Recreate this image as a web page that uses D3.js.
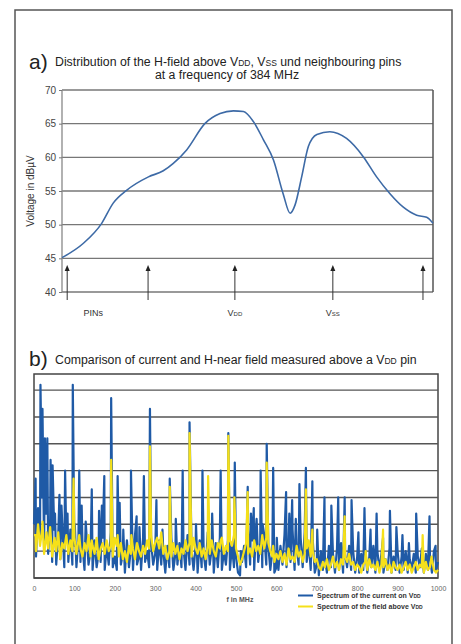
<!DOCTYPE html>
<html>
<head>
<meta charset="utf-8">
<script src="https://cdn.jsdelivr.net/npm/d3@7/dist/d3.min.js"></script>
<style>
  html, body { margin: 0; padding: 0; background: #fff; }
  svg { display: block; font-family: "Liberation Sans", Arial, sans-serif; }
</style>
</head>
<body>
<svg id="chart" width="461" height="644"></svg>
<script>
// Chart a) - field distribution across the pins (position in um, level in dBuV)
var scanPos = [0, 57, 107, 138, 174, 233, 273, 300, 336, 385, 426, 462, 489, 516, 543, 570, 596, 615, 628, 646, 664, 687, 722, 767, 812, 848, 884, 920, 956, 983, 1000];
var scanLevel = [45.1, 47.2, 50.2, 53.2, 55.1, 57.1, 58.0, 59.1, 61.1, 65.0, 66.5, 66.9, 66.8, 65.3, 62.6, 59.6, 54.6, 51.7, 52.9, 57.1, 61.6, 63.4, 63.8, 62.8, 60.1, 57.1, 54.6, 52.6, 51.4, 51.1, 50.2];
var pinPos = [14, 232, 466, 730, 973];
var pinLabels = [
  {pos: 84, main: 'PINs', sub: ''},
  {pos: 466, main: 'V', sub: 'DD'},
  {pos: 730, main: 'V', sub: 'SS'}
];
var yTicksA = [40, 45, 50, 55, 60, 65, 70];

// Chart b) - spectra, frequency in MHz, relative level (unlabelled axis)
var floorStep = 5;
var currentFloor = [
  20, 8, 26, 14, 30, 10, 24, 9, 22, 6, 18, 5, 16, 7, 20, 4, 14, 6, 18, 5, 12,
  4, 15, 6, 12, 3, 16, 5, 10, 3, 14, 4, 9, 6, 15, 3, 12, 5, 17, 4, 8,
  3, 13, 5, 9, 2, 14, 4, 11, 3, 16, 5, 8, 3, 15, 6, 10, 4, 13, 5, 9,
  3, 14, 5, 10, 2, 12, 4, 15, 3, 9, 5, 13, 4, 11, 3, 16, 5, 10, 3, 12,
  2, 14, 4, 9, 3, 17, 5, 11, 2, 13, 4, 15, 3, 10, 5, 14, 3, 12, 4, 8,
  2, 1, 6, 12, 4, 18, 5, 14, 3, 20, 6, 13, 4, 16, 5, 12, 3, 10, 2, 4,
  3, 12, 5, 16, 4, 14, 6, 18, 3, 12, 5, 15, 4, 17, 6, 13, 3, 14, 2, 5,
  1, 10, 3, 8, 2, 12, 4, 9, 2, 11, 3, 13, 2, 9, 4, 12, 3, 10, 2, 8,
  2, 9, 3, 11, 2, 8, 4, 12, 2, 10, 3, 9, 2, 7, 3, 11, 2, 8, 3, 10,
  2, 8, 3, 10, 2, 7, 3, 9, 2, 8, 4, 11, 2, 9, 3, 8, 2, 10, 3, 6];
var fieldFloor = [
  16, 10, 20, 12, 18, 9, 15, 11, 19, 8, 14, 10, 17, 7, 13, 11, 16, 9, 14, 10, 15,
  9, 14, 11, 8, 13, 10, 16, 8, 12, 9, 15, 7, 11, 13, 9, 14, 10, 12, 8, 15,
  12, 8, 13, 7, 10, 6, 12, 9, 11, 7, 13, 10, 8, 12, 9, 14, 11, 16, 10, 13,
  15, 11, 17, 9, 12, 7, 10, 8, 13, 9, 12, 7, 11, 9, 14, 10, 13, 8, 15, 11,
  9, 13, 8, 11, 7, 12, 9, 14, 10, 8, 13, 11, 15, 9, 12, 10, 14, 12, 16, 11,
  8, 5, 7, 10, 13, 9, 11, 8, 14, 10, 12, 9, 16, 11, 15, 13, 10, 8, 6, 9,
  7, 10, 6, 9, 5, 11, 7, 8, 6, 12, 8, 10, 6, 9, 11, 14, 8, 10, 6, 7,
  4, 3, 6, 4, 7, 3, 5, 8, 4, 6, 3, 7, 5, 8, 6, 9, 5, 6, 3, 5,
  4, 2, 5, 6, 3, 7, 4, 5, 3, 6, 2, 5, 4, 7, 3, 5, 2, 6, 4, 3,
  5, 2, 4, 6, 3, 5, 2, 4, 6, 3, 5, 4, 2, 6, 3, 4, 7, 3, 2, 3];
var currentPeaks = [[4, 37], [16, 72], [21, 63], [27, 52], [33, 52], [41, 44], [46, 42], [52, 24], [63, 31], [68, 27],
  [77, 40], [83, 24], [96, 72], [101, 20], [112, 40], [118, 27], [128, 21], [143, 33], [161, 25], [168, 27],
  [174, 38], [191, 67], [207, 38], [212, 28], [221, 18], [240, 40], [254, 23], [261, 19], [272, 38], [287, 63],
  [303, 29], [318, 18], [336, 37], [351, 22], [368, 40], [385, 58], [401, 20], [417, 40], [441, 24], [462, 40],
  [481, 54], [497, 43], [512, 10], [529, 34], [537, 24], [544, 26], [551, 22], [561, 40], [566, 20], [576, 50],
  [592, 41], [601, 15], [624, 32], [632, 24], [639, 29], [648, 22], [657, 35], [673, 41], [689, 36], [701, 18],
  [719, 30], [736, 27], [753, 30], [769, 30], [786, 29], [803, 17], [818, 26], [833, 18], [848, 24], [864, 15],
  [881, 25], [897, 19], [912, 16], [928, 13], [946, 24], [979, 23], [994, 12]];
var fieldPeaks = [[4, 16], [21, 21], [31, 17], [51, 15], [98, 37], [112, 16], [143, 14], [191, 44], [207, 16], [241, 16],
  [287, 49], [306, 14], [336, 34], [385, 54], [431, 38], [462, 14], [481, 53], [496, 30], [529, 32], [576, 43],
  [592, 12], [673, 33], [689, 18], [769, 23], [821, 10], [864, 18], [962, 16], [984, 8]];
var freqTicks = [0, 100, 200, 300, 400, 500, 600, 700, 800, 900, 1000];
var gridB = [10, 20, 30, 40, 50, 60, 70];
var legendItems = [
  {label: 'Spectrum of the current on V', sub: 'DD', color: '#1f5aa6'},
  {label: 'Spectrum of the field above V', sub: 'DD', color: '#f5e01a'}
];

var svg = d3.select('#chart');
svg.append('rect').attr('width', 461).attr('height', 644).attr('fill', '#fff');

// outer frame, its bottom edge runs off the page
svg.append('rect')
  .attr('x', 15).attr('y', 10).attr('width', 437).attr('height', 660)
  .attr('fill', 'none').attr('stroke', '#555').attr('stroke-width', 1.5);

// ---------- a) ----------
var xA = d3.scaleLinear().domain([0, 1000]).range([62, 433]);
var yA = d3.scaleLinear().domain([40, 70]).range([292, 90]);

svg.append('text').attr('x', 29).attr('y', 69)
  .attr('font-size', 21).attr('fill', '#222').text('a)');
var tA = svg.append('text').attr('x', 55).attr('y', 66)
  .attr('font-size', 12.3).attr('fill', '#222');
tA.append('tspan').text('Distribution of the H-field above V');
tA.append('tspan').attr('font-size', 8.5).text('DD');
tA.append('tspan').text(', V');
tA.append('tspan').attr('font-size', 8.5).text('SS');
tA.append('tspan').text(' und neighbouring pins');
svg.append('text').attr('x', 227).attr('y', 79).attr('text-anchor', 'middle')
  .attr('font-size', 12.3).attr('fill', '#222').text('at a frequency of 384 MHz');

var gA = svg.append('g');
gA.selectAll('line.grid').data(yTicksA).enter().append('line')
  .attr('class', 'grid')
  .attr('x1', xA(0)).attr('x2', xA(1000))
  .attr('y1', function(d) { return yA(d); }).attr('y2', function(d) { return yA(d); })
  .attr('stroke', '#777').attr('stroke-width', 1.3);
gA.append('line').attr('x1', xA(0)).attr('x2', xA(0)).attr('y1', yA(70)).attr('y2', yA(40))
  .attr('stroke', '#888').attr('stroke-width', 1.3);
gA.append('line').attr('x1', xA(1000)).attr('x2', xA(1000)).attr('y1', yA(70)).attr('y2', yA(40))
  .attr('stroke', '#555').attr('stroke-width', 1.5);

var axisA = d3.axisLeft(yA).tickValues(yTicksA).tickSize(3).tickPadding(3);
gA.append('g').attr('transform', 'translate(' + xA(0) + ',0)').call(axisA)
  .call(function(g) {
    g.select('.domain').remove();
    g.selectAll('line').attr('stroke', '#777');
    g.selectAll('text').attr('font-size', 10).attr('fill', '#444').attr('font-family', 'Liberation Sans, Arial, sans-serif');
  });

svg.append('text')
  .attr('transform', 'translate(34,' + yA(55) + ') rotate(-90)')
  .attr('text-anchor', 'middle').attr('font-size', 10).attr('fill', '#333')
  .text('Voltage in dB\u00b5V');

var line = d3.line()
  .x(function(d, i) { return xA(scanPos[i]); })
  .y(function(d) { return yA(d); })
  .curve(d3.curveMonotoneX);
gA.append('path').datum(scanLevel)
  .attr('d', line).attr('fill', 'none')
  .attr('stroke', '#3d6aa6').attr('stroke-width', 1.6);

// pin arrows
var arrows = gA.selectAll('g.pin').data(pinPos).enter().append('g').attr('class', 'pin');
arrows.append('line')
  .attr('x1', function(d) { return xA(d); }).attr('x2', function(d) { return xA(d); })
  .attr('y1', yA(40) + 8).attr('y2', yA(44) + 3)
  .attr('stroke', '#333').attr('stroke-width', 1);
arrows.append('path')
  .attr('d', function(d) {
    var x = xA(d), y = yA(44);
    return 'M' + x + ',' + y + 'L' + (x - 2.5) + ',' + (y + 6) + 'L' + (x + 2.5) + ',' + (y + 6) + 'Z';
  })
  .attr('fill', '#222');

var pl = gA.selectAll('text.pinlab').data(pinLabels).enter().append('text')
  .attr('class', 'pinlab')
  .attr('x', function(d) { return xA(d.pos); }).attr('y', yA(40) + 24)
  .attr('text-anchor', 'middle').attr('font-size', 9).attr('fill', '#333');
pl.append('tspan').text(function(d) { return d.main; });
pl.append('tspan').attr('font-size', 6).text(function(d) { return d.sub; });

// ---------- b) ----------
var xB = d3.scaleLinear().domain([0, 1000]).range([34, 438]);
var yB = d3.scaleLinear().domain([0, 76]).range([578, 374]);

svg.append('text').attr('x', 29).attr('y', 366)
  .attr('font-size', 21).attr('fill', '#222').text('b)');
var tB = svg.append('text').attr('x', 55).attr('y', 364)
  .attr('font-size', 12.3).attr('fill', '#222');
tB.append('tspan').text('Comparison of current and H-near field measured above a V');
tB.append('tspan').attr('font-size', 8.5).text('DD');
tB.append('tspan').text(' pin');

var gB = svg.append('g');
gB.append('rect')
  .attr('x', xB(0)).attr('y', yB(76)).attr('width', xB(1000) - xB(0)).attr('height', yB(0) - yB(76))
  .attr('fill', '#fff').attr('stroke', '#444').attr('stroke-width', 1.5);
gB.selectAll('line.grid').data(gridB).enter().append('line')
  .attr('class', 'grid')
  .attr('x1', xB(0)).attr('x2', xB(1000))
  .attr('y1', function(d) { return yB(d); }).attr('y2', function(d) { return yB(d); })
  .attr('stroke', '#555').attr('stroke-width', 1.4);

function buildSeries(floor, peaks) {
  var pts = floor.map(function(v, i) { return [i * floorStep, v]; });
  pts = pts.concat(peaks);
  pts.sort(function(a, b) { return a[0] - b[0]; });
  return pts;
}

var spec = d3.line()
  .x(function(d) { return xB(d[0]); })
  .y(function(d) { return yB(d[1]); });

gB.append('path').datum(buildSeries(currentFloor, currentPeaks))
  .attr('d', spec).attr('fill', 'none')
  .attr('stroke', '#1f5aa6').attr('stroke-width', 2.2).attr('stroke-linejoin', 'round');
gB.append('path').datum(buildSeries(fieldFloor, fieldPeaks))
  .attr('d', spec).attr('fill', 'none')
  .attr('stroke', '#f5e01a').attr('stroke-width', 2.2).attr('stroke-linejoin', 'round');

gB.append('line').attr('x1', xB(0)).attr('x2', xB(1000)).attr('y1', yB(0)).attr('y2', yB(0))
  .attr('stroke', '#444').attr('stroke-width', 1.5);

var axisB = d3.axisBottom(xB).tickValues(freqTicks).tickFormat(d3.format('d')).tickSize(0).tickPadding(8);
gB.append('g').attr('transform', 'translate(0,' + yB(0) + ')').call(axisB)
  .call(function(g) {
    g.select('.domain').remove();
    g.selectAll('text').attr('font-size', 7).attr('fill', '#666').attr('font-family', 'Liberation Sans, Arial, sans-serif');
  });

svg.append('text').attr('x', 240).attr('y', 602).attr('text-anchor', 'middle')
  .attr('font-size', 7).attr('font-weight', 'bold').attr('fill', '#555').text('f in MHz');

var leg = svg.selectAll('g.legend').data(legendItems).enter().append('g')
  .attr('class', 'legend')
  .attr('transform', function(d, i) { return 'translate(298,' + (598 + i * 11) + ')'; });
leg.append('line').attr('x1', 0).attr('x2', 15).attr('y1', -2.5).attr('y2', -2.5)
  .attr('stroke', function(d) { return d.color; }).attr('stroke-width', 2);
var lt = leg.append('text').attr('x', 19).attr('y', 0)
  .attr('font-size', 7).attr('font-weight', 'bold').attr('fill', '#333');
lt.append('tspan').text(function(d) { return d.label; });
lt.append('tspan').attr('font-size', 5).text(function(d) { return d.sub; });
</script>
</body>
</html>
